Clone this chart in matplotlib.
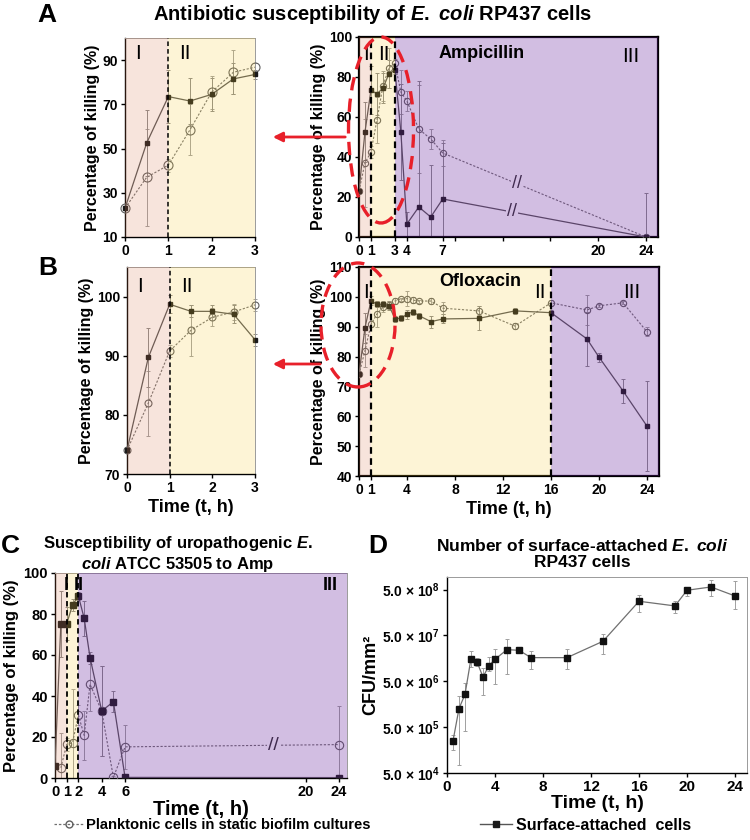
import numpy as np
import matplotlib
matplotlib.use('Agg')
import matplotlib.pyplot as plt
from matplotlib.patches import Ellipse, FancyArrowPatch
from matplotlib.lines import Line2D

plt.rcParams['font.family'] = ['Liberation Sans', 'DejaVu Sans']
plt.rcParams['font.weight'] = 'bold'
plt.rcParams['axes.labelweight'] = 'bold'
plt.rcParams['mathtext.fontset'] = 'custom'
plt.rcParams['mathtext.rm'] = 'Liberation Sans:bold'
plt.rcParams['mathtext.it'] = 'Liberation Sans:italic:bold'
plt.rcParams['mathtext.bf'] = 'Liberation Sans:bold'

# ---- A: ampicillin, E. coli RP437 ----
amp_t = np.array([0, 0.5, 1, 1.5, 2, 2.5, 3, 3.5, 4, 5, 6, 7, 24])
amp_bio = np.array([23, 52.5, 73.5, 71.5, 74.5, 81.5, 83.5, 52.5, 6.5, 15, 10, 19, 0])
amp_bio_err = np.array([1, 15, 12, 10.5, 7.5, 7, 2, 24, 6, 63, 26, 28, 22])
amp_pl = np.array([23, 37, 42.5, 58.5, 75.5, 84.5, 86.8, 72.5, 68, 54, 49, 42, 0])
amp_pl_err = np.array([1, 22, 3, 11.5, 7.5, 10, 2, 11, 5, 22, 5, 6.5, 0])

# ---- B: ofloxacin, E. coli RP437 ----
ofl_t = np.array([0, 0.5, 1, 1.5, 2, 2.5, 3, 3.5, 4, 4.5, 5, 6, 7, 10, 13, 16, 19, 20, 22, 24])
ofl_bio = np.array([74, 89.7, 98.7, 97.5, 97.5, 97, 92.7, 92.8, 94.2, 95, 93.7, 91.7, 92.6,
                    92.8, 95.3, 94.7, 85.9, 79.8, 68.5, 56.7])
ofl_bio_err = np.array([0.5, 5, 1.5, 1, 1, 1.5, 1, 1, 1.5, 1, 1, 2, 1.5, 4, 1, 1, 9, 1.5, 4, 15])
ofl_pl = np.array([74, 82, 90.8, 94.3, 96.5, 97.4, 98.6, 99.2, 99.4, 98.9, 98.6, 98.6, 96.2,
                   95.3, 90.2, 98, 95.6, 97, 98, 88.3])
ofl_pl_err = np.array([0.5, 5.5, 1, 4.3, 1.5, 1.3, 1, 0.5, 2.5, 1, 0.5, 1, 2, 1.5, 1, 1, 5, 0.5, 0.5, 1.5])

# ---- C: uropathogenic ATCC 53505, ampicillin ----
c_t_bio = np.array([0, 0.5, 1, 1.5, 2, 2.5, 3, 4, 5, 6, 24])
c_bio = np.array([5.9, 75.2, 75.2, 84.4, 88.8, 77.9, 58.7, 32.7, 37.2, 0.3, 0.2])
c_bio_err = np.array([0, 16, 8, 3, 2, 8.5, 3, 22, 5, 0.5, 0])
c_t_pl = np.array([0.5, 1, 1.5, 2, 2.5, 3, 4, 5, 6, 24])
c_pl = np.array([5, 16.4, 17.2, 30.7, 20.8, 45.7, 32.6, 0.3, 15.2, 16.3])
c_pl_err = np.array([17, 3, 26, 5, 12, 13, 22, 0.5, 10.7, 18.7])

# ---- D: surface-attached cells ----
d_t = np.array([0.5, 1, 1.5, 2, 2.5, 3, 3.5, 4, 5, 6, 7, 10, 13, 16, 19, 20, 22, 24])
d_cfu = np.array([2.5e5, 1.27e6, 2.6e6, 1.56e7, 1.32e7, 6.2e6, 1.1e7, 1.51e7, 2.45e7, 2.37e7,
                  1.64e7, 1.64e7, 3.73e7, 2.78e8, 2.2e8, 4.83e8, 5.7e8, 3.63e8])
d_hi = np.array([3.3e5, 2.39e6, 4.6e6, 2.3e7, 1.6e7, 9.9e6, 1.7e7, 2.58e7, 4.1e7, 2.6e7,
                 2.3e7, 2.5e7, 5.5e7, 3.9e8, 2.83e8, 5.7e8, 7.9e8, 7.6e8])
d_lo = np.array([1.55e5, 7.3e4, 4.06e5, 1.03e7, 1.1e7, 2.5e6, 8.4e6, 4.45e6, 7.1e6, 2.15e7,
                 9.4e6, 9.1e6, 1.94e7, 1.6e8, 1.57e8, 3.6e8, 3.6e8, 1.86e8])
d_yticks = [5e4, 5e5, 5e6, 5e7, 5e8]

PINK, YEL, PUR = '#d77850', '#f5c832', '#671f9b'
W, H = 750, 840


def fx(x):
    return x / W


def fy(y):
    return 1 - y / H


def rect(l, t, r, b):
    return [fx(l), fy(b), fx(r) - fx(l), fy(t) - fy(b)]


def shade(ax, spans):
    for a, b, c, al in spans:
        ax.axvspan(a, b, color=c, alpha=al, lw=0, zorder=4)


def series(ax, t, bio, bio_err, tp, pl, pl_err, ms_sq=4, ms_ci=6, clip=True):
    ax.errorbar(tp, pl, yerr=pl_err, fmt='none', ecolor='#a0a0a0', elinewidth=0.7,
                capsize=1.3, capthick=0.7, zorder=2, clip_on=clip)
    ax.errorbar(t, bio, yerr=bio_err, fmt='none', ecolor='#8a8a8a', elinewidth=0.7,
                capsize=1.3, capthick=0.7, zorder=2, clip_on=clip)
    ax.plot(tp, pl, ls=(0, (2, 1.5)), color='#707070', lw=0.8, marker='o', ms=ms_ci,
            mfc='none', mec='#606060', mew=0.8, zorder=3, clip_on=clip)
    ax.plot(t, bio, ls='-', color='#555555', lw=0.9, marker='s', ms=ms_sq,
            mfc='#1a1a1a', mec='#1a1a1a', zorder=3, clip_on=clip)


def style(ax, heavy=False, lsize=10):
    for s in ['left', 'bottom']:
        ax.spines[s].set_linewidth(1.6 if heavy else 1.0)
        ax.spines[s].set_color('black')
    for s in ['top', 'right']:
        ax.spines[s].set_linewidth(1.6 if heavy else 0.7)
        ax.spines[s].set_color('black' if heavy else '#9a9a9a')
    ax.tick_params(direction='out', length=3, width=1, labelsize=lsize, pad=2)
    for lab in ax.get_xticklabels() + ax.get_yticklabels():
        lab.set_fontweight('bold')


def break_mark(ax, x, y, size=13):
    ax.text(x, y, '//', fontsize=size, fontweight='normal', color='#303030', ha='center',
            va='center', zorder=3.5,
            bbox=dict(boxstyle='square,pad=0.05', fc='white', ec='none'))


def roman(ax, x, y, s, size=15, ha='left', weight='normal'):
    ax.text(x, y, s, transform=ax.transAxes, fontsize=size, fontweight=weight, va='center',
            ha=ha, zorder=6)


fig = plt.figure(figsize=(7.5, 8.4), dpi=100)

ylab = 'Percentage of killing (%)'

# A left
axa1 = fig.add_axes(rect(125, 38, 255, 237))
m = amp_t <= 3
series(axa1, amp_t[m], amp_bio[m], amp_bio_err[m], amp_t[m], amp_pl[m], amp_pl_err[m],
       ms_sq=3.5, ms_ci=6.5, clip=False)
axa1.set_xlim(0, 3)
axa1.set_ylim(10, 100)
axa1.set_xticks([0, 1, 2, 3])
axa1.set_yticks([10, 30, 50, 70, 90])
shade(axa1, [(0, 1, PINK, 0.2), (1, 3, YEL, 0.2)])
axa1.axvline(1, color='black', ls=(0, (3, 2)), lw=1.1, zorder=5)
axa1.set_ylabel(ylab, fontsize=11.5, labelpad=2)
roman(axa1, 0.08, 0.92, 'I')
roman(axa1, 0.42, 0.92, 'II')
style(axa1)

# A right
axa2 = fig.add_axes(rect(359, 37, 658, 237))
series(axa2, amp_t, amp_bio, amp_bio_err, amp_t, amp_pl, amp_pl_err, ms_sq=3.5, ms_ci=4.5)
axa2.set_xlim(0, 25)
axa2.set_ylim(0, 100)
axa2.set_xticks([0, 1, 3, 4, 7, 8, 12, 16, 20, 24])
axa2.set_xticklabels(['0', '1', '3', '4', '7', '', '', '', '20', '24'])
axa2.set_yticks(range(0, 101, 20))
break_mark(axa2, 13.2, 27)
break_mark(axa2, 12.8, 12.5)
shade(axa2, [(0, 1, PINK, 0.2), (1, 3, YEL, 0.2), (3, 25, PUR, 0.29)])
for v in [1, 3]:
    axa2.axvline(v, color='black', ls=(0, (3, 2)), lw=1.6, zorder=5)
axa2.set_ylabel(ylab, fontsize=11.5, labelpad=2)
roman(axa2, 0.015, 0.91, 'I')
roman(axa2, 0.065, 0.91, 'II')
roman(axa2, 0.91, 0.9, 'III', ha='center')
axa2.text(0.41, 0.92, 'Ampicillin', transform=axa2.transAxes, fontsize=13, va='center', ha='center', zorder=6)
style(axa2, heavy=True)

# B left
axb1 = fig.add_axes(rect(127, 267, 255, 474))
m = ofl_t <= 3
series(axb1, ofl_t[m], ofl_bio[m], ofl_bio_err[m], ofl_t[m], ofl_pl[m], ofl_pl_err[m],
       ms_sq=3, ms_ci=5, clip=False)
axb1.set_xlim(0, 3)
axb1.set_ylim(70, 105)
axb1.set_xticks([0, 1, 2, 3])
axb1.set_yticks([70, 80, 90, 100])
shade(axb1, [(0, 1, PINK, 0.2), (1, 3, YEL, 0.2)])
axb1.axvline(1, color='black', ls=(0, (3, 2)), lw=1.1, zorder=5)
axb1.set_ylabel(ylab, fontsize=11.5, labelpad=2)
axb1.set_xlabel('Time (t, h)', fontsize=13, labelpad=3)
roman(axb1, 0.08, 0.905, 'I')
roman(axb1, 0.42, 0.905, 'II')
style(axb1)

# B right
axb2 = fig.add_axes(rect(359, 267, 659, 476))
series(axb2, ofl_t, ofl_bio, ofl_bio_err, ofl_t, ofl_pl, ofl_pl_err, ms_sq=3.5, ms_ci=4.5)
axb2.set_xlim(0, 25)
axb2.set_ylim(40, 110)
axb2.set_xticks([0, 1, 4, 8, 12, 16, 20, 24])
axb2.set_yticks(range(40, 111, 10))
shade(axb2, [(0, 1, PINK, 0.2), (1, 16, YEL, 0.2), (16, 25, PUR, 0.29)])
for v in [1, 16]:
    axb2.axvline(v, color='black', ls=(0, (3, 2)), lw=1.6, zorder=5)
axb2.set_ylabel(ylab, fontsize=11.5, labelpad=2)
axb2.set_xlabel('Time (t, h)', fontsize=13, labelpad=3)
roman(axb2, 0.015, 0.88, 'I')
roman(axb2, 0.585, 0.88, 'II')
roman(axb2, 0.91, 0.88, 'III', ha='center')
axb2.text(0.405, 0.93, 'Ofloxacin', transform=axb2.transAxes, fontsize=13, va='center', ha='center', zorder=6)
style(axb2, heavy=True)

# C (axis stretched between 0 and 6 h, compressed after the break)
c_src = [-100, 0, 6, 20, 24, 100]
c_dst = [-100, 0, 6, 21.5, 24.3, 24.3 + 76 * 0.7]


def c_fwd(x):
    return np.interp(x, c_src, c_dst)


def c_inv(x):
    return np.interp(x, c_dst, c_src)


axc = fig.add_axes(rect(55, 573, 347, 778))
axc.set_xscale('function', functions=(c_fwd, c_inv))
series(axc, c_t_bio, c_bio, c_bio_err, c_t_pl, c_pl, c_pl_err, ms_sq=4.5, ms_ci=6)
axc.set_xlim(0, 25.0)
axc.set_ylim(0, 100)
axc.set_xticks([0, 1, 2, 4, 6, 20, 24])
axc.set_xticklabels(['0', '1', '2', '4', '6', '20', '24'])
axc.set_yticks(range(0, 101, 20))
break_mark(axc, 17.5, 16, size=14)
shade(axc, [(0, 1, PINK, 0.2), (1, 2, YEL, 0.2), (2, 25, PUR, 0.29)])
for v in [1, 2]:
    axc.axvline(v, color='black', ls=(0, (3, 2)), lw=1.3, zorder=5)
axc.set_ylabel(ylab, fontsize=12, labelpad=3)
axc.set_xlabel('Time (t, h)', fontsize=14.5, labelpad=1)
roman(axc, 0.03, 0.94, 'I', size=13, weight='bold')
roman(axc, 0.065, 0.94, 'II', size=13, weight='bold')
roman(axc, 0.97, 0.94, 'III', size=13, ha='right', weight='bold')
style(axc, lsize=10.5)

# D
axd = fig.add_axes(rect(447, 577, 747, 773))
axd.errorbar(d_t, d_cfu, yerr=[d_cfu - d_lo, d_hi - d_cfu], fmt='none', ecolor='#a0a0a0',
             elinewidth=0.7, capsize=1.3, capthick=0.7, zorder=2)
axd.plot(d_t, d_cfu, '-', color='#707070', lw=0.9, marker='s', ms=3.8, mfc='#111111',
         mec='#111111', zorder=3)
axd.set_yscale('log')
axd.set_xlim(0, 25)
axd.set_ylim(5e4, 9.4e8)
axd.set_xticks(range(0, 25, 4))
axd.set_yticks(d_yticks)
axd.set_yticklabels([r'5.0 × 10$^{%d}$' % int(np.log10(v / 5)) for v in d_yticks])
axd.minorticks_off()
axd.set_ylabel('CFU/mm²', fontsize=13, labelpad=2)
axd.set_xlabel('Time (t, h)', fontsize=14, labelpad=1)
style(axd, lsize=10)
axd.tick_params(axis='x', labelsize=11)

# titles and panel letters
fig.text(fx(373), fy(15), r'Antibiotic susceptibility of $\mathit{E.\ coli}$ RP437 cells',
         fontsize=14.5, ha='center', va='center')
fig.text(fx(178), fy(554), 'Susceptibility of uropathogenic $\\mathit{E.}$\n$\\mathit{coli}$ ATCC 53505 to Amp',
         fontsize=12, ha='center', va='center', linespacing=1.1)
fig.text(fx(582), fy(554), 'Number of surface-attached $\\mathit{E.\\ coli}$\nRP437 cells',
         fontsize=12.5, ha='center', va='center', linespacing=1.1)
for s, x, y in [('A', 47, 15), ('B', 48, 268), ('C', 10, 546), ('D', 378, 546)]:
    fig.text(fx(x), fy(y), s, fontsize=19, ha='center', va='center')

# red ellipses and arrows
fig.add_artist(Ellipse((fx(381), fy(130)), 65 / W, 186 / H, transform=fig.transFigure,
                       fill=False, ec='#e8202a', lw=2.4, ls=(0, (4, 2.5)), zorder=10))
fig.add_artist(Ellipse((fx(358), fy(325)), 74 / W, 124 / H, transform=fig.transFigure,
                       fill=False, ec='#e8202a', lw=2.4, ls=(0, (4, 2.5)), zorder=10))
for y, x0 in [(137, 348), (364, 323)]:
    fig.add_artist(FancyArrowPatch((fx(x0), fy(y)), (fx(270), fy(y)), transform=fig.transFigure,
                                   arrowstyle='-|>', mutation_scale=14, color='#e8202a', lw=2,
                                   zorder=10))

# legends
h_pl = Line2D([], [], ls=(0, (2, 1.5)), color='#707070', lw=0.9, marker='o', ms=5,
              mfc='none', mec='#606060')
h_bio = Line2D([], [], ls='-', color='#555555', lw=1.0, marker='s', ms=4.5, mfc='#1a1a1a',
               mec='#1a1a1a')
fig.legend([h_pl], ['Planktonic cells in static biofilm cultures'], loc='center left',
           bbox_to_anchor=(fx(48), fy(825)), frameon=False, fontsize=10.6, handlelength=2,
           handletextpad=0.2, borderaxespad=0)
fig.legend([h_bio], ['Surface-attached  cells'], loc='center left',
           bbox_to_anchor=(fx(474), fy(825)), frameon=False, fontsize=11.5, handlelength=2,
           handletextpad=0.2, borderaxespad=0)

fig.savefig('out.png', dpi=100)
